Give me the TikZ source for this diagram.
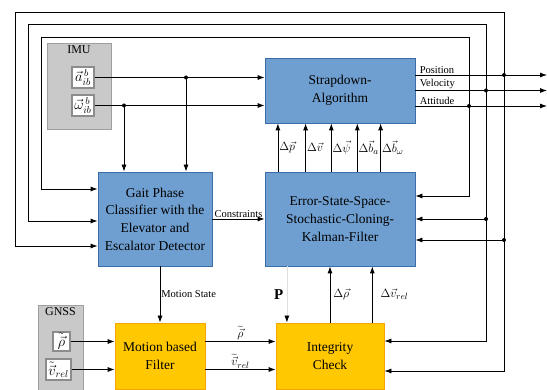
\documentclass[tikz,border=0pt]{standalone}
\usepackage{fontspec}
\setmainfont{Liberation Serif}
\usepackage{xcolor}
\usetikzlibrary{arrows.meta, positioning, calc}
\definecolor{boxblue}{HTML}{6F9FD0}
\definecolor{edgeblue}{HTML}{3A6EA8}
\definecolor{boxorange}{HTML}{FFC800}
\definecolor{edgeorange}{HTML}{F5A500}
\begin{document}
\begin{tikzpicture}[x=1pt, y=-1pt, >={Latex[length=7pt,width=5pt]},
    box/.style={rectangle, align=center, inner sep=0pt, font=\fontsize{13.5}{17.7}\selectfont},
    blk/.style={box, fill=boxblue, draw=edgeblue, line width=0.8pt},
    orng/.style={box, fill=boxorange, draw=edgeorange, line width=0.8pt},
    grp/.style={draw=gray!75, fill=gray!42, line width=0.8pt},
    sig/.style={draw=gray!90, fill=white, line width=1.3pt, inner sep=0pt, font=\fontsize{14}{16}\selectfont},
    ttl/.style={below, inner sep=3pt, font=\fontsize{12}{14}\selectfont},
    lbl/.style={inner sep=1pt, font=\fontsize{10.5}{12}\selectfont},
    lblm/.style={inner sep=1pt, font=\fontsize{13}{15}\selectfont},
    dot/.style={circle, fill, inner sep=0pt, minimum size=4pt},
    every path/.style={line width=0.8pt}]
    \useasboundingbox (0,0) rectangle (547,390);

    % sensor groups
    \node[grp, minimum width=64pt, minimum height=86pt] (imu) at (79,86) {};
    \node[ttl] (imutxt) at (imu.north) {IMU};
    \node[sig, minimum width=22pt, minimum height=21pt] (acc) at (83,77.5) {$\vec{a}^{\,b}_{ib}$};
    \node[sig, minimum width=22pt, minimum height=21pt] (gyr) at (83,105.5) {$\vec{\omega}^{\,b}_{ib}$};
    \node[grp, minimum width=45pt, minimum height=92pt] (gnss) at (60.5,351) {};
    \node[ttl] (gnsstxt) at (gnss.north) {GNSS};
    \node[sig, minimum width=17pt, minimum height=19pt] (rho) at (61.5,341.5) {$\tilde{\vec{\rho}}$};
    \node[sig, minimum width=25pt, minimum height=21pt] (vrel) at (58.5,369.5) {$\tilde{\vec{v}}_{rel}$};

    % processing blocks
    \node[blk, minimum width=150pt, minimum height=65pt] (sd) at (340,90.5) {Strapdown-\\Algorithm};
    \node[blk, minimum width=114pt, minimum height=94pt] (gait) at (155,219) {Gait Phase\\Classifier with the\\Elevator and\\Escalator Detector};
    \node[blk, minimum width=150pt, minimum height=94pt] (eskf) at (340,219) {Error-State-Space-\\Stochastic-Cloning-\\Kalman-Filter};
    \node[orng, minimum width=90pt, minimum height=66pt] (mbf) at (160,356) {Motion based\\Filter};
    \node[orng, minimum width=108pt, minimum height=66pt] (ic) at (330,356) {Integrity\\Check};

    % imu signals
    \node[dot] (ja) at (186,77.5) {};
    \node[dot] (jw) at (124,105.5) {};
    \draw[->] (acc) -- (acc -| sd.west);
    \draw[->] (gyr) -- (gyr -| sd.west);
    \draw[->] (ja.center) -- (ja |- gait.north);
    \draw[->] (jw.center) -- (jw |- gait.north);

    % navigation outputs
    \coordinate (pos) at (547,75);
    \coordinate (vel) at (547,90.5);
    \coordinate (att) at (547,106);
    \draw[->] (sd.east |- pos) node[lbl, above right, xshift=3pt] {Position} -- (pos);
    \draw[->] (sd.east |- vel) node[lbl, above right, xshift=3pt] {Velocity} -- (vel);
    \draw[->] (sd.east |- att) node[lbl, above right, xshift=3pt] {Attitude} -- (att);
    \node[dot] (jp) at (504,75) {};
    \node[dot] (jv) at (486,90.5) {};
    \node[dot] (jt) at (469,106) {};

    % feedback loops
    \coordinate (kp) at ([yshift=-21pt]eskf.east);
    \coordinate (kv) at (eskf.east);
    \coordinate (kt) at ([yshift=23pt]eskf.east);
    \node[dot] (jkp) at (jp |- kp) {};
    \node[dot] (jkv) at (jv |- kv) {};
    \draw[->] (jp.center) |- (15,12) |- ([yshift=-27pt]gait.west);
    \draw[->] (jv.center) |- (28,24) |- ([yshift=-2pt]gait.west);
    \draw[->] (jt.center) |- (41,37) |- ([yshift=30pt]gait.west);
    \draw[->] (jp.center) |- ([yshift=-15pt]ic.east);
    \draw[->] (jv.center) |- ([yshift=15pt]ic.east);
    \draw[->] (jt.center) |- (kt);
    \draw[->] (jkp.center) -- (kp);
    \draw[->] (jkv.center) -- (kv);

    % error corrections
    \foreach \dx/\lab in {13.3/{\Delta\vec{p}}, 41/{\Delta\vec{v}}, 66.7/{\Delta\vec{\psi}},
        92.7/{\Delta\vec{b}_a}, 116/{\Delta\vec{b}_\omega}}
        \draw[->] ([xshift=\dx pt]eskf.north west) -- ([xshift=\dx pt]sd.south west)
            node[midway, right, lblm] {$\lab$};

    \draw[->] (gait) -- (eskf) node[midway, above, lbl] {Constraints};
    \draw[->] (mbf.north |- gait.south) -- (mbf.north) node[midway, right, lbl] {Motion State};

    % gnss path
    \draw[->] (rho) -- (rho -| mbf.west);
    \draw[->] (vrel) -- (vrel -| mbf.west);
    \draw[->] (mbf.east |- rho) -- (ic.west |- rho) node[midway, above, lblm] {$\widetilde{\vec{\rho}}$};
    \draw[->] (mbf.east |- vrel) -- (ic.west |- vrel) node[midway, above, lblm] {$\widetilde{\vec{v}}_{rel}$};

    \draw[gray!25, -{Latex[length=7pt,width=5pt,color=black]}] ([xshift=22.3pt]eskf.south west) -- ([xshift=22.3pt]eskf.south west |- ic.north)
        node[midway, left, black, font=\fontsize{15}{17}\selectfont] {$\mathbf{P}$};
    \draw[->] (ic.north) -- (ic.north |- eskf.south) node[midway, right, lblm, xshift=2pt] {$\Delta\vec{\rho}$};
    \draw[->] ([xshift=107.7pt]eskf.south west |- ic.north) -- ([xshift=107.7pt]eskf.south west)
        node[midway, right, lblm, xshift=7pt] {$\Delta\vec{v}_{rel}$};
\end{tikzpicture}
\end{document}
